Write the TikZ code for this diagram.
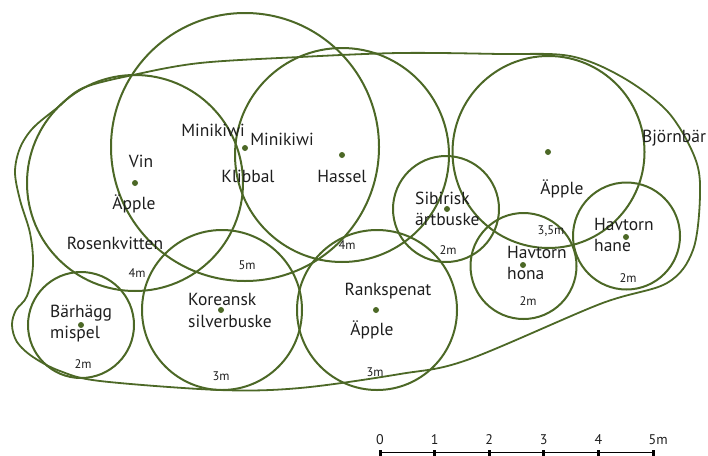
\documentclass[tikz,border=0pt]{standalone}
\usepackage{fontspec}
\setmainfont{PT Sans}
\definecolor{leaf}{RGB}{76,104,38}
\definecolor{ink}{RGB}{30,30,30}
\begin{document}
\begin{tikzpicture}[x=1pt,y=-1pt,
  bed/.style={draw=leaf, line width=2pt},
  dot/.style={circle, fill=leaf, inner sep=0pt, minimum size=6pt},
  lbl/.style={text=ink, font=\fontsize{17.5}{20}\selectfont, inner sep=0pt},
  lblw/.style={lbl, anchor=west},
  sz/.style={text=ink, font=\fontsize{12.5}{14}\selectfont, inner sep=0pt},
  scl/.style={text=ink, font=\fontsize{14}{16}\selectfont, inner sep=0pt},
  tick/.style={draw=black, line width=3pt},
]
\useasboundingbox (0,0) rectangle (708,455);

% outline of the bramble bed
\draw[bed, line width=1.8pt] plot[smooth cycle, tension=0.55] coordinates {
 (133,75) (200,63) (300,57) (400,53) (500,54) (570,56) (622,77) (668,112)
 (695,158) (700,195) (693,250) (667,283) (600,304) (467,360) (400,374)
 (300,388) (220,390) (100,381) (60,371) (33,357) (17,342) (12,325) (16,310)
 (27,296) (33,265) (30,233) (20,200) (15,172) (20,148) (33,128) (57,108) (83,88)};

% crowns
\draw[bed] (135,183) circle[radius=108pt];
\draw[bed] (245,147) circle[radius=134pt];
\draw[bed] (342,155) circle[radius=107pt];
\draw[bed] (446,209) circle[radius=53pt];
\draw[bed] (548.5,152) circle[radius=96pt];
\draw[bed] (523.5,266) circle[radius=53pt];
\draw[bed] (626.5,236) circle[radius=53.5pt];
\draw[bed] (377,310) circle[radius=80pt];
\draw[bed] (222,310) circle[radius=80pt];
\draw[bed] (81,325) circle[radius=53pt];

% centre dots
\node[dot] (dvin) at (135,183) {};
\node[dot] (dkiwi) at (245,148) {};
\node[dot] (dhassel) at (342,155) {};
\node[dot] (dsib) at (447,209) {};
\node[dot] (dapple) at (548,152) {};
\node[dot] (dhona) at (523,265) {};
\node[dot] (dhane) at (626,237) {};
\node[dot] (drank) at (376,310) {};
\node[dot] (dkor) at (221,310) {};
\node[dot] (dbar) at (81,325) {};

% labels
\node[lbl] (tvin) at (141,161) {Vin};
\node[lbl] (tapple1) at (134,204) {Äpple};
\node[lbl] (tmk1) at (213,130) {Minikiwi};
\node[lbl] (tmk2) at (282,139) {Minikiwi};
\node[lbl] (tklib) at (248,176) {Klibbal};
\node[lbl] (thas) at (342,176) {Hassel};
\node[lbl] (tros) at (115,243) {Rosenkvitten};
\node[sz] (s4a) at (137,273) {4m};
\node[sz] (s5) at (247,265) {5m};
\node[sz] (s4b) at (347,245) {4m};
\node[lblw] (tsib1) at (415,198) {Sibirisk};
\node[lblw] (tsib2) at (415,219) {ärtbuske};
\node[sz] (s2a) at (448,250) {2m};
\node[lbl] (tapple2) at (562,189) {Äpple};
\node[sz] (s35) at (551,231) {3,5m};
\node[lbl] (tbjo) at (674,138) {Björnbär};
\node[lblw] (thona1) at (507,252) {Havtorn};
\node[lblw] (thona2) at (507,273) {hona};
\node[sz] (s2b) at (528,301) {2m};
\node[lblw] (thane1) at (594,224) {Havtorn};
\node[lblw] (thane2) at (594,245) {hane};
\node[sz] (s2c) at (628,278) {2m};
\node[lbl] (trank) at (388,291) {Rankspenat};
\node[lbl] (tapple3) at (372,330) {Äpple};
\node[sz] (s3a) at (375,372) {3m};
\node[lblw] (tkor1) at (188,299) {Koreansk};
\node[lblw] (tkor2) at (188,321) {silverbuske};
\node[sz] (s3b) at (221,376) {3m};
\node[lblw] (tbar1) at (50,313) {Bärhägg};
\node[lblw] (tbar2) at (50,334) {mispel};
\node[sz] (s2d) at (83,364) {2m};

% scale bar
\coordinate (m0) at (380,452.5);
\coordinate (m1) at (434.6,452.5);
\coordinate (m2) at (489.2,452.5);
\coordinate (m3) at (543.8,452.5);
\coordinate (m4) at (598.4,452.5);
\coordinate (m5) at (653,452.5);
\draw[black, line width=1.4pt] (m0) -- (m5);
\foreach \m in {m0,m1,m2,m3,m4,m5} {
  \draw[tick] ([yshift=2.5pt]\m) -- ([yshift=-3.5pt]\m);
}
\node[scl] (n0) at (380,440) {0};
\node[scl] (n1) at (434.6,440) {1};
\node[scl] (n2) at (489.2,440) {2};
\node[scl] (n3) at (543.8,440) {3};
\node[scl] (n4) at (598.4,440) {4};
\node[scl, anchor=west] (n5) at (648.5,440) {5m};
\end{tikzpicture}
\end{document}
